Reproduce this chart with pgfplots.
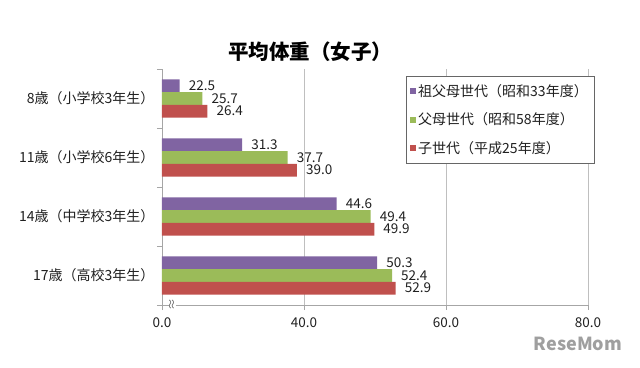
\documentclass[border=0pt]{standalone}
\usepackage{fontspec}
\setmainfont{Noto Sans CJK JP}
\usepackage{pgfplots}
\pgfplotsset{compat=1.18}
\definecolor{cpur}{HTML}{8064A2}
\definecolor{cgrn}{HTML}{9BBB59}
\definecolor{cred}{HTML}{C0504D}
\definecolor{ctxt}{HTML}{202020}
\begin{document}
\begin{tikzpicture}[x=1pt,y=1pt]
\path[use as bounding box] (0,0) rectangle (640,367);
\node[font=\bfseries\fontsize{20.5}{22}\selectfont, text=black] at (310,315) {平均体重（女子）};
\begin{axis}[
  at={(162pt,62pt)}, anchor=south west,
  scale only axis, width=426pt, height=236pt,
  xbar, bar width=0.215,
  xmin=20, xmax=80, ymin=-0.5, ymax=3.5,
  clip=false,
  /pgf/number format/assume math mode=true,
  xtick={20,40,60,80}, xticklabels={0.0,40.0,60.0,80.0},
  ytick={0,1,2,3},
  yticklabels={{17歳（高校3年生）},{14歳（中学校3年生）},{11歳（小学校6年生）},{8歳（小学校3年生）}},
  minor ytick={-0.5,0.5,1.5,2.5,3.5},
  tick align=outside, major tick length=5pt, minor tick length=5pt,
  y tick style={draw=none}, minor y tick style={draw=gray!70},
  x tick style={draw=gray!70},
  axis x line*=bottom, axis y line*=left,
  axis line style={-, draw=gray!70},
  xmajorgrids, grid style={draw=gray!50},
  ticklabel style={font=\fontsize{13.5}{15}\selectfont, text=ctxt},
  xticklabel style={yshift=-4pt},
  yticklabel style={font=\fontsize{14}{16}\selectfont, xshift=1pt},
  nodes near coords,
  every node near coord/.append style={font=\fontsize{13.5}{15}\selectfont, text=ctxt, anchor=west, inner sep=0pt, xshift=9pt},
  nodes near coords={\pgfmathprintnumber[fixed,fixed zerofill,precision=1]{\pgfplotspointmeta}},
  point meta=x,
  legend style={at={(0.5728,0.970)}, anchor=north west, draw=black!60,
    font=\fontsize{14}{15}\selectfont, text=ctxt, row sep=11pt,
    inner xsep=4pt, inner ysep=6pt, cells={anchor=west}},
  legend image code/.code={\fill[#1] (2pt,-3pt) rectangle (8pt,3pt);},
]
\addplot[fill=cpur, draw=none, bar shift=0.215] coordinates {(50.3,0) (44.6,1) (31.3,2) (22.5,3)};
\addplot[fill=cgrn, draw=none, bar shift=0] coordinates {(52.4,0) (49.4,1) (37.7,2) (25.7,3)};
\addplot[fill=cred, draw=none, bar shift=-0.215] coordinates {(52.9,0) (49.9,1) (39.0,2) (26.4,3)};
\legend{祖父母世代（昭和33年度）,父母世代（昭和58年度）,子世代（平成25年度）}
\node[fill=white, inner sep=0.3pt, rotate=90, text=gray!80!black, font=\fontsize{12}{12}\selectfont] at (axis cs:21.5,-0.5) {≈};
\end{axis}
\node[font=\bfseries\fontsize{18}{20}\selectfont, text=gray!75] at (578,23) {ReseMom};
\end{tikzpicture}
\end{document}
